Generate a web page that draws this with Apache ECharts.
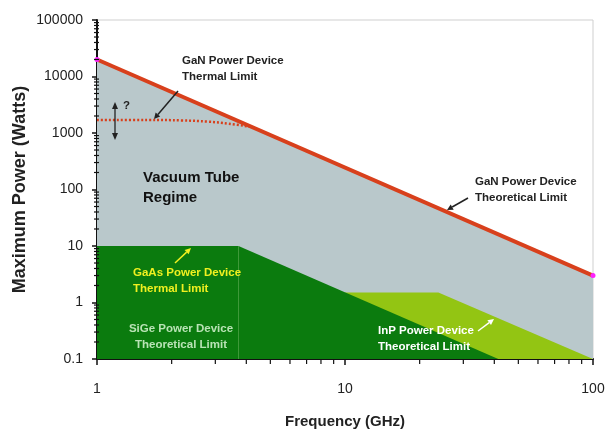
<!DOCTYPE html>
<html>
<head>
<meta charset="utf-8">
<script src="https://cdn.jsdelivr.net/npm/echarts@6/dist/echarts.min.js"></script>
<style>
  html, body { margin: 0; padding: 0; background: #ffffff; }
  #chart { width: 605px; height: 430px; }
</style>
</head>
<body>
<div id="chart"></div>
<script>
// Frequency (GHz) vs maximum power (W), log-log
const xTickValues = [1, 10, 100];
const yTickValues = [0.1, 1, 10, 100, 1000, 10000, 100000];

// GaN theoretical limit (upper edge of the vacuum-tube region fill)
const ganTheoretical = [[1, 20000], [100, 3]];
// GaN thermal limit (dotted), flattening at low frequency
const ganThermal = [[1, 1700], [1.6, 1700], [2.2, 1670], [2.8, 1590], [3.4, 1460], [4.3, 1260]];
// GaAs / SiGe region (dark green)
const gaasLimit = [[1, 10], [3.72, 10], [41.5, 0.1]];
// SiGe boundary
const sigeEdge = [[3.72, 0.1], [3.72, 10]];
// InP region (light green)
const inpLimit = [[10, 1.5], [23.8, 1.5], [100, 0.1]];

// Minor tick values (2..9 within each decade)
const xMinor = [2, 3, 4, 5, 6, 7, 8, 9, 20, 30, 40, 50, 60, 70, 80, 90];
const yMinor = [];
[0.1, 1, 10, 100, 1000, 10000].forEach(function (d) {
  for (let k = 2; k <= 9; k++) yMinor.push(+(d * k).toPrecision(6));
});

const FONT = '"Liberation Sans", Arial, sans-serif';
const chart = echarts.init(document.getElementById('chart'));

function tickSeries(values, dir) {
  return {
    type: 'custom',
    silent: true,
    clip: false,
    z: 10,
    data: values.map(function (v) { return [v]; }),
    renderItem: function (params, api) {
      const v = api.value(0);
      let shape;
      if (dir === 'x') {
        const p = api.coord([v, 0.1]);
        shape = { x1: p[0], y1: p[1], x2: p[0], y2: p[1] + 5 };
      } else {
        const p = api.coord([1, v]);
        shape = { x1: p[0] - 3, y1: p[1], x2: p[0] + 2, y2: p[1] };
      }
      return { type: 'line', shape: shape, style: { stroke: '#111', lineWidth: 1.2 } };
    }
  };
}

function arrowGraphic(x1, y1, x2, y2, color) {
  const ang = Math.atan2(y2 - y1, x2 - x1);
  const L = 6, W = 3;
  const bx = x2 - L * Math.cos(ang), by = y2 - L * Math.sin(ang);
  const px = -Math.sin(ang) * W, py = Math.cos(ang) * W;
  return [
    { type: 'line', shape: { x1: x1, y1: y1, x2: bx, y2: by }, style: { stroke: color, lineWidth: 1.5 }, z: 20 },
    { type: 'polygon', shape: { points: [[x2, y2], [bx + px, by + py], [bx - px, by - py]] }, style: { fill: color }, z: 20 }
  ];
}

function label(x, y, text, color, size, align) {
  return {
    type: 'text', x: x, y: y, z: 20,
    style: {
      text: text, fill: color, font: 'bold ' + size + 'px ' + FONT,
      textAlign: align || 'left', textVerticalAlign: 'middle', lineHeight: size + 4.5
    }
  };
}

const graphics = []
  .concat(arrowGraphic(178, 91, 154, 119, '#222'))
  .concat(arrowGraphic(468, 198, 447, 210, '#222'))
  .concat(arrowGraphic(175, 263, 191, 248, '#f0f020'))
  .concat(arrowGraphic(478, 331, 494, 319, '#ffffff'))
  .concat([
    // vertical double arrow next to the "?"
    { type: 'line', shape: { x1: 115, y1: 108, x2: 115, y2: 134 }, style: { stroke: '#222', lineWidth: 1.3 }, z: 20 },
    { type: 'polygon', shape: { points: [[115, 102], [112, 109], [118, 109]] }, style: { fill: '#222' }, z: 20 },
    { type: 'polygon', shape: { points: [[115, 140], [112, 133], [118, 133]] }, style: { fill: '#222' }, z: 20 },
    label(123, 106, '?', '#222', 11.5),
    label(182, 69, 'GaN Power Device\nThermal Limit', '#222', 11.5),
    label(143, 188, 'Vacuum Tube\nRegime', '#111', 15),
    label(475, 190, 'GaN Power Device\nTheoretical Limit', '#222', 11.5),
    label(133, 281, 'GaAs Power Device\nThermal Limit', '#f0f020', 11.5),
    label(181, 337, 'SiGe Power Device\nTheoretical Limit', '#b9e3b5', 11.5, 'center'),
    label(378, 339, 'InP Power Device\nTheoretical Limit', '#ffffff', 11.5)
  ]);

chart.setOption({
  animation: false,
  textStyle: { fontFamily: FONT },
  grid: {
    left: 97, right: 12, top: 20, bottom: 71,
    outerBoundsMode: 'none', containLabel: false,
    show: true, borderColor: '#cfcfcf', borderWidth: 1, backgroundColor: 'transparent'
  },
  xAxis: {
    type: 'log', logBase: 10, min: 1, max: 100,
    name: 'Frequency (GHz)', nameLocation: 'middle', nameGap: 55, nameMoveOverlap: false,
    nameTextStyle: { fontFamily: FONT, fontWeight: 'bold', fontSize: 15, color: '#222' },
    axisLine: { show: true, lineStyle: { color: '#111', width: 2 } },
    axisTick: { show: true, length: 6, lineStyle: { color: '#111', width: 1.5 } },
    axisLabel: { fontSize: 14, color: '#222', margin: 23, fontFamily: FONT },
    splitLine: { show: false }
  },
  yAxis: {
    type: 'log', logBase: 10, min: 0.1, max: 100000,
    name: 'Maximum Power (Watts)', nameLocation: 'middle', nameGap: 68, nameMoveOverlap: false,
    nameTextStyle: { fontFamily: FONT, fontWeight: 'bold', fontSize: 18, color: '#222' },
    axisLine: { show: true, lineStyle: { color: '#111', width: 2 } },
    axisTick: { show: true, length: 5, lineStyle: { color: '#111', width: 1.5 } },
    axisLabel: {
      fontSize: 14, color: '#222', margin: 14, fontFamily: FONT,
      formatter: function (v) { return String(+v.toPrecision(6)); }
    },
    splitLine: { show: false }
  },
  series: [
    {
      name: 'GaN Power Device Theoretical Limit',
      type: 'line', data: ganTheoretical,
      symbol: 'circle', symbolSize: 5,
      itemStyle: { color: '#ff22ff' },
      lineStyle: { color: '#d8401c', width: 4 },
      areaStyle: { color: '#b9c8cb', opacity: 1, origin: 'start' },
      z: 2
    },
    {
      name: 'InP Power Device Theoretical Limit',
      type: 'line', data: inpLimit, symbol: 'none',
      lineStyle: { width: 0 },
      areaStyle: { color: '#93c513', opacity: 1, origin: 'start' },
      z: 3
    },
    {
      name: 'GaAs Power Device Thermal Limit',
      type: 'line', data: gaasLimit, symbol: 'none',
      lineStyle: { width: 0 },
      areaStyle: { color: '#0b7b0e', opacity: 1, origin: 'start' },
      z: 4
    },
    {
      name: 'SiGe edge',
      type: 'line', data: sigeEdge, symbol: 'none',
      lineStyle: { color: '#3f9a3a', width: 1 },
      z: 5
    },
    {
      name: 'GaN Power Device Thermal Limit',
      type: 'line', data: ganThermal, symbol: 'none', smooth: 0.4,
      lineStyle: { color: '#d8401c', width: 2.5, type: [2, 2] },
      z: 6
    },
    tickSeries(xMinor, 'x'),
    tickSeries(yMinor, 'y')
  ],
  graphic: graphics
});
</script>
</body>
</html>
